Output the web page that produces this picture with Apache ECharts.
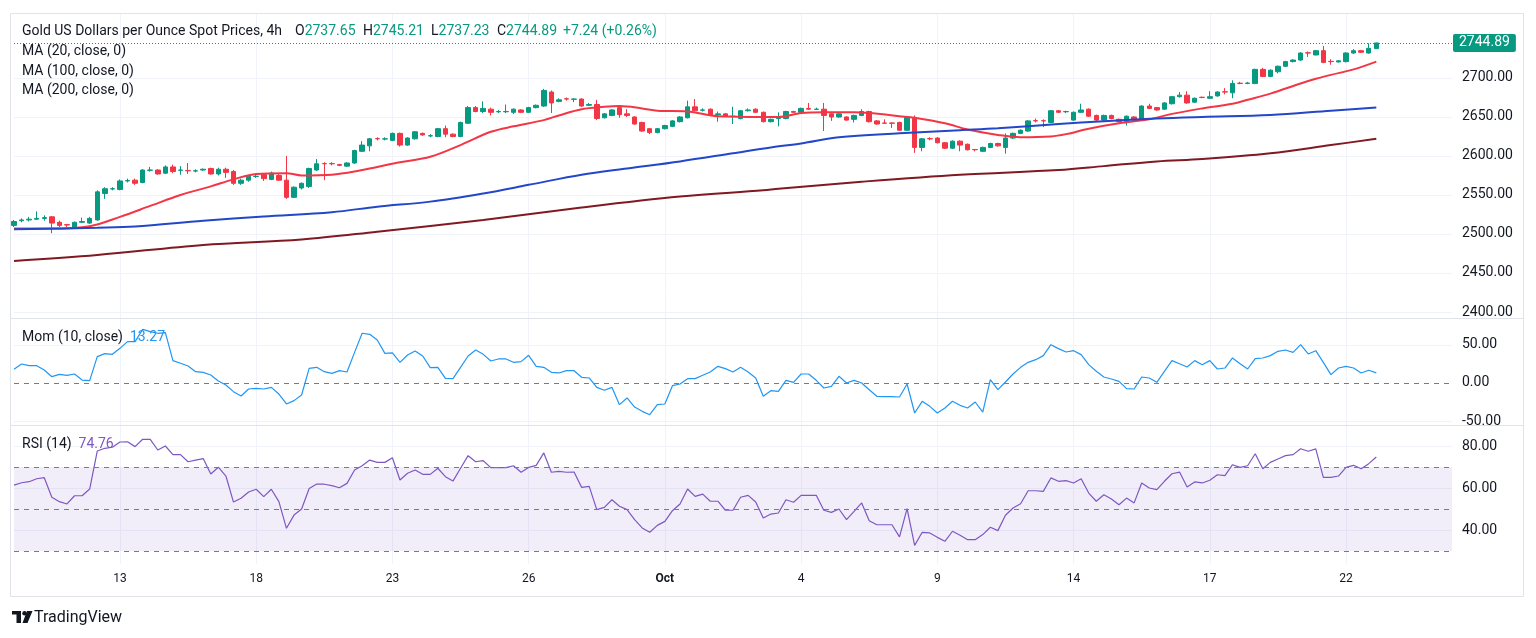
<!DOCTYPE html>
<html><head><meta charset="utf-8">
<script src="https://cdn.jsdelivr.net/npm/echarts@6/dist/echarts.min.js"></script>
<style>html,body{margin:0;padding:0;background:#fff}#c{width:1536px;height:638px}</style>
</head><body><div id="c"></div>
<script>
// ---- time axis ----
const tradingDays = ['2024-09-10','2024-09-11','2024-09-12','2024-09-13','2024-09-16','2024-09-17','2024-09-18','2024-09-19','2024-09-20','2024-09-23','2024-09-24','2024-09-25','2024-09-26','2024-09-27','2024-09-30','2024-10-01','2024-10-02','2024-10-03','2024-10-04','2024-10-07','2024-10-08','2024-10-09','2024-10-10','2024-10-11','2024-10-14','2024-10-15','2024-10-16','2024-10-17','2024-10-18','2024-10-21','2024-10-22','2024-10-23','2024-10-24'];
const barHours = ['00:00','04:00','08:00','12:00','16:00','20:00'];
const firstBarSlot = 4;      // series starts at 2024-09-10 16:00
const totalSlots = 191;      // bars + empty space on the right
const tickDates = ['2024-09-13','2024-09-18','2024-09-23','2024-09-26','2024-10-01','2024-10-04','2024-10-09','2024-10-14','2024-10-17','2024-10-22'];
const tickLabels = ['13','18','23','26','Oct','4','9','14','17','22'];

// ---- header values ----
const headerTitle = 'Gold US Dollars per Ounce Spot Prices, 4h';
const headerOHLC = [['O', '2737.65'], ['H', '2745.21'], ['L', '2737.23'], ['C', '2744.89']];
const headerChange = '+7.24 (+0.26%)';
const maLabels = ['MA (20, close, 0)', 'MA (100, close, 0)', 'MA (200, close, 0)'];

// ---- price (4h candles) ----
const opens = [2511,2517,2518,2519,2520,2522,2515,2512,2509,2515,
2514,2518,2552,2557.8,2557,2568,2569,2566,2581.7,2582,
2578,2586,2581.7,2581.5,2580.7,2582,2584,2577,2583,2580,
2565,2569,2573.7,2576,2570,2575,2569,2547,2559,2561,
2582,2590.3,2590.3,2589,2587,2591,2606,2613,2622.3,2621.7,
2620,2629,2614,2622,2629,2625.7,2625,2635,2628,2625,
2642,2662,2657,2660,2656.7,2656.7,2656,2659,2656,2662,
2664,2682,2670,2673.3,2672.7,2673,2665,2666,2649,2652,
2662,2654,2650,2643,2635,2630,2635,2638,2644,2649,
2663,2658.7,2660,2653,2654,2650.7,2648,2658,2660,2656,
2644,2648,2648,2657,2656,2661,2659.7,2660,2654,2650,
2650,2647,2652,2657,2645,2642.3,2642.3,2643,2633,2648,
2611,2622.3,2623,2617,2610,2619,2615,2608.3,2606,2611,
2616,2611,2623,2629,2632,2645.3,2645.3,2643,2658,2656.7,
2646,2656,2660,2652,2646,2652,2647,2643,2650,2647,
2664,2662,2660,2667,2676,2678,2669,2675.3,2674,2677,
2682.3,2681,2693.3,2693,2693,2711,2702,2708,2715,2721,
2723,2732.3,2729.5,2735,2721.3,2720.5,2721,2732,2735,2732,
2737.65];
const closes = [2516,2518,2519,2520,2521,2514,2511,2511.5,2515,2516,
2520,2554,2558,2558,2568,2568.5,2565,2582,2582,2577,
2586,2580,2582,2581,2581,2583,2577,2583,2579,2565,
2569,2574,2574,2571,2578,2569,2547,2560,2565,2584,
2590,2590,2590,2588,2591,2607,2614,2622,2622,2622,
2629,2614,2623,2631,2627,2626,2635,2628,2625,2643,
2662,2657,2661,2656,2657,2657,2660,2656,2662,2665,
2684,2668,2672,2673,2673,2664,2666,2648,2654,2659,
2653,2652,2641,2632,2630,2635,2639,2645,2650,2663,
2658,2659,2653,2654,2651,2651,2658,2659,2656,2644,
2647,2649,2657,2656,2661,2660,2660,2652,2650,2654,
2646,2652,2657,2644,2641,2642,2642,2633,2650,2611,
2622,2622,2617,2610,2619,2614,2608,2608,2611,2616,
2613,2623,2629,2633,2645,2645,2645,2658,2656,2657,
2656,2659,2651,2646,2652,2648,2644,2651,2646,2664,
2661,2659,2668,2676,2678,2668,2674,2675,2676,2682,
2682,2693,2693,2693.5,2711,2702,2710,2715,2721,2723,
2732,2732,2735,2720,2721,2722,2732,2735,2733,2738,
2744.89];
const lows = [2509,2515,2516,2518,2517,2501,2509,2509,2508,2514,
2513,2517,2545,2556,2556,2566,2563,2565,2580,2576,
2577,2578,2576,2577,2579,2581,2576,2575,2572,2563,
2563,2567,2572,2568,2569,2568,2545,2546,2557,2559,
2581,2569,2588,2587,2586,2590,2605,2606,2620,2620,
2619,2612,2613,2621,2626,2624,2624,2624,2624,2624,
2641,2656,2655,2652,2655,2655,2654,2655,2655,2661,
2663,2655,2669,2671,2669,2663,2664,2646,2648,2651,
2649,2650,2640,2631,2628,2629,2634,2637,2643,2648,
2657,2657,2652,2644,2650,2641,2647,2657,2655,2643,
2643,2638,2647,2655,2655,2659,2659,2632,2645,2649,
2645,2643,2651,2643,2640,2641,2636,2632,2632,2604,
2606,2620,2616,2609,2609,2606,2607,2606,2605,2610,
2612,2603,2622,2628,2631,2643,2637,2642,2655,2655,
2645,2655,2650,2645,2645,2647,2643,2639,2645,2646,
2660,2658,2659,2666,2675,2667,2668,2674,2673,2676,
2679,2674,2692,2692,2692,2701,2701,2706,2714,2720,
2722,2727,2729,2719,2717,2720,2720,2731,2732,2731,
2737.23];
const highs = [2518,2520,2522,2529,2524,2523,2517,2513,2516,2521,
2522,2556,2560,2560,2570,2571,2571,2583,2586,2583,
2588,2589,2587,2591,2583,2584,2585,2585,2585,2582,
2571,2575,2576,2577,2580,2577,2600,2561,2566,2585,
2596,2592,2592,2590,2592,2608,2619,2623,2624,2624,
2630,2630,2624,2632,2630,2628,2636,2639,2629,2644,
2664,2664,2670,2662,2659,2666,2661,2660,2663,2666,
2686,2684,2674,2675,2674,2674,2668,2672,2655,2660,
2663,2660,2651,2644,2636,2636,2640,2646,2651,2671,
2673,2661,2661,2657,2655,2663,2659,2661,2661,2657,
2648,2656,2658,2658,2662,2668,2662,2668,2655,2655,
2651,2653,2660,2658,2646,2647,2643,2644,2651,2652,
2623,2624,2624,2618,2620,2620,2616,2609,2612,2617,
2617,2629,2630,2634,2646,2648,2647,2659,2659,2658,
2657,2667,2661,2653,2653,2653,2648,2652,2651,2665,
2667,2663,2669,2677,2682,2683,2675,2676,2683,2683,
2687,2697,2695,2695,2712,2713,2711,2716,2722,2724,
2733,2734,2736,2741,2724,2723,2733,2737,2736,2744.5,
2745.21];

// ---- moving averages: [bar index, value] ----
const ma20Points = [[0,2507],[5,2507],[10,2510],[14,2522],[18,2536],[22,2550],[26,2561],[29,2570],[32,2577],[36,2578],[38,2575],[42,2576],[45,2580],[48,2586],[51,2592],[55,2599],[59,2614],[63,2631],[66,2638],[70,2646],[72,2652],[75,2660],[78,2663],[80,2664],[83,2661],[85,2658],[89,2657],[93,2651],[99,2650],[101,2650],[104,2655],[107,2656],[111,2656],[113,2655],[117,2651],[119,2649],[123,2642],[126,2634],[130,2627],[133,2624],[137,2625],[139,2628],[142,2635],[146,2642],[150,2647],[153,2654],[157,2661],[161,2667],[163,2672],[166,2680],[170,2693],[172,2699],[174,2704],[177,2711],[180,2721]];
const ma100Points = [[0,2506],[11,2508],[16,2509.5],[25,2517],[33,2522.5],[42,2528],[48,2535],[55,2541.5],[62,2552],[68,2563],[75,2576],[81,2584],[88,2593],[95,2603.5],[100,2611],[104,2616],[109,2624],[117,2629],[125,2633],[130,2635.5],[138,2641],[144,2644.5],[151,2648],[157,2650],[166,2652.5],[174,2658],[180,2662]];
const ma200Points = [[0,2465.4],[11,2473],[25,2486],[38,2493],[48,2503],[62,2518],[75,2534],[88,2548],[99,2556],[101,2558],[112,2567],[125,2576],[138,2582],[144,2587],[151,2593],[157,2596],[166,2603.5],[174,2614],[180,2622]];

// ---- Momentum (10) ----
const momValues = [18.0,25.0,22.8,22.8,17.1,8.3,11.4,10.1,11.8,3.9,
3.1,34.7,38.6,37.7,45.6,54.4,54.4,70.6,67.6,65.4,
66.2,29.4,25.9,22.4,14.9,14.0,10.5,2.6,-2.6,-11.4,
-17.1,-7.9,-7.0,-7.9,-5.7,-14.5,-27.6,-23.2,-15.8,19.3,
20.6,14.9,12.7,16.2,14.5,40.3,65.4,64.0,56.6,39.0,
39.5,27.2,36.8,42.1,35.5,20.2,20.6,6.1,5.7,20.6,
35.5,43.4,37.7,28.9,31.6,31.6,27.2,28.1,36.4,21.9,
20.6,14.0,13.2,16.2,16.2,7.5,6.6,-5.7,-9.6,-5.7,
-28.5,-19.7,-31.6,-37.3,-41.7,-28.5,-27.6,-3.5,-1.3,5.7,
5.7,10.1,14.5,21.9,18.9,14.5,20.6,14.5,6.6,-17.5,
-10.1,-11.0,3.5,0.9,11.8,11.8,3.5,-6.6,-4.4,8.8,
0,3.5,0,-8.8,-17.5,-17.9,-17.9,-18.4,-1.3,-39.5,
-24.1,-30.7,-39.5,-32.9,-24.1,-29.4,-32.9,-25.0,-38.2,4.4,
-8.8,1.3,11.8,20.6,27.2,30.7,36.0,50.4,45.2,40.8,
42.5,37.3,24.1,15.4,7.9,5.3,2.2,-7.5,-7.9,7.9,
6.6,0.9,15.4,29.4,25.4,21.1,29.4,24.1,29.4,18.4,
19.7,32.9,25.4,18.4,32.0,32.9,36.0,41.7,43.4,40.3,
50.4,38.2,42.5,27.2,11.0,19.7,21.9,19.7,13.2,16.7,
13.27];

// ---- RSI (14) ----
const rsiValues = [61.4,62.5,63.0,64.4,64.9,55.6,53.5,52.4,56.3,56.3,
59.5,77.6,78.9,79.4,81.9,82.0,79.7,83.2,83.2,78.1,
80.0,75.9,75.9,72.5,73.3,74.0,66.7,69.9,65.7,53.3,
55.1,58.1,59.4,55.9,59.4,53.5,40.8,47.1,50.0,59.8,
61.9,61.8,61.1,60.1,62.2,68.6,70.6,73.3,72.2,72.2,
74.4,63.8,67.0,68.6,66.5,66.5,69.4,65.4,63.3,69.4,
75.4,72.5,73.0,69.7,69.7,69.7,70.6,67.5,69.8,70.8,
76.7,67.5,67.9,67.5,67.6,60.3,60.8,49.7,50.8,54.4,
51.3,49.7,44.9,41.0,38.9,42.2,44.1,49.2,52.4,59.5,
56.0,57.1,53.7,53.7,49.4,49.4,55.6,56.5,53.3,45.7,
47.6,48.1,54.4,53.2,56.5,56.5,56.5,49.4,48.4,50.0,
44.9,48.9,52.9,44.4,42.5,42.5,42.5,36.7,50.2,32.7,
38.9,38.6,36.5,34.6,39.4,37.5,35.4,35.4,37.8,41.3,
39.7,47.0,50.5,52.5,58.7,58.7,58.4,64.8,63.2,63.5,
62.4,64.4,57.6,53.7,56.8,54.8,52.0,55.2,52.9,62.4,
60.0,59.2,63.2,66.8,67.6,60.5,62.9,62.4,63.7,66.3,
65.9,71.1,69.8,70.6,76.3,69.2,72.2,73.8,75.4,75.9,
78.7,77.5,78.6,65.1,65.1,65.7,69.8,70.8,69.2,71.6,
74.76];

// ---- build tables ----
const allSlots = [];
tradingDays.forEach(d => barHours.forEach(h => allSlots.push(d + ' ' + h)));
const categories = allSlots.slice(firstBarSlot, firstBarSlot + totalSlots);
const tickSet = new Set(tickDates.map(d => d + ' 00:00'));
const candleData = opens.map((o, i) => [o, closes[i], lows[i], highs[i]]);
const lastClose = closes[closes.length - 1];
const lastMom = momValues[momValues.length - 1];
const lastRsi = rsiValues[rsiValues.length - 1];

const FONT = 'Roboto';
const TXT = '#131722';
const GRID = '#f0f3fa';
const UP = '#089981', DOWN = '#f23645';
const NONE = 'rgba(0,0,0,0)';
const G = { left: 14, right: 84 };

function hiddenX(gi) {
  return { type: 'category', gridIndex: gi, data: categories, boundaryGap: false, show: false };
}
const isTick = (idx, val) => tickSet.has(val);
function txt(x, y, text, rich) {
  return { type: 'text', z: 60, silent: true, x: x, y: y,
    style: { text: text, rich: rich, fill: TXT, fontSize: 14, fontFamily: FONT, align: 'left', verticalAlign: 'middle' } };
}
const richBase = { t: { fill: TXT, fontSize: 14, fontFamily: FONT }, g: { fill: UP, fontSize: 14, fontFamily: FONT },
  b: { fill: '#2196f3', fontSize: 14, fontFamily: FONT }, p: { fill: '#7e57c2', fontSize: 14, fontFamily: FONT } };
const ohlcX = [295, 363, 431, 497];

const chart = echarts.init(document.getElementById('c'), null, { renderer: 'canvas' });
chart.setOption({
  animation: false,
  backgroundColor: '#ffffff',
  textStyle: { fontFamily: FONT },
  grid: [
    { left: G.left, right: G.right, top: 13, height: 299 },
    { left: G.left, right: G.right, top: 318, height: 103 },
    { left: G.left, right: G.right, top: 425, height: 126 },
    { left: G.left, right: G.right, top: 13, height: 551 }
  ],
  xAxis: [
    hiddenX(0), hiddenX(1), hiddenX(2),
    {
      type: 'category', gridIndex: 3, data: categories, boundaryGap: false,
      axisLine: { show: false }, axisTick: { show: false },
      axisLabel: {
        interval: isTick, margin: 9, color: TXT, fontSize: 12, fontFamily: FONT,
        formatter: (v) => { const lab = tickLabels[tickDates.indexOf(v.slice(0, 10))]; return lab === 'Oct' ? '{b|Oct}' : lab; },
        rich: { b: { fontWeight: 'bold', color: TXT, fontSize: 12, fontFamily: FONT } }
      },
      splitLine: { show: true, interval: isTick, lineStyle: { color: GRID, width: 1 } }
    }
  ],
  yAxis: [
    {
      type: 'value', gridIndex: 0, position: 'right', min: 2400, max: 2783.3, interval: 50,
      axisLine: { show: false }, axisTick: { show: false },
      axisLabel: { color: TXT, fontSize: 14, margin: 10, fontFamily: FONT, showMaxLabel: false,
        formatter: v => (v > 2720 ? '' : v.toFixed(2)) },
      splitLine: { lineStyle: { color: [GRID, GRID, GRID, GRID, GRID, GRID, GRID, NONE, NONE] } }
    },
    {
      type: 'value', gridIndex: 1, position: 'right', min: -50, max: 85.5, interval: 50,
      axisLine: { show: false }, axisTick: { show: false },
      axisLabel: { color: TXT, fontSize: 14, margin: 10, fontFamily: FONT, showMaxLabel: false, formatter: v => v.toFixed(2) },
      splitLine: { lineStyle: { color: [GRID, NONE, GRID, NONE] } }
    },
    {
      type: 'value', gridIndex: 2, position: 'right', min: 30, max: 90, interval: 10,
      axisLine: { show: false }, axisTick: { show: false },
      axisLabel: { color: TXT, fontSize: 14, margin: 10, fontFamily: FONT, formatter: v => (v === 40 || v === 60 || v === 80) ? v.toFixed(2) : '' },
      splitLine: { lineStyle: { color: [NONE, GRID, NONE, GRID, NONE, GRID, NONE] } }
    },
    { type: 'value', gridIndex: 3, show: false, min: 0, max: 1 }
  ],
  series: [
    {
      name: 'Gold', type: 'candlestick', xAxisIndex: 0, yAxisIndex: 0, data: candleData,
      barWidth: 5, clip: false,
      itemStyle: { color: UP, color0: DOWN, borderColor: UP, borderColor0: DOWN, borderWidth: 1 },
      markLine: {
        silent: true, symbol: ['none', 'none'], animation: false,
        data: [{ yAxis: lastClose }],
        lineStyle: { color: UP, type: [1, 2], width: 1 },
        label: { show: true, position: 'end', distance: 1, formatter: lastClose.toFixed(2),
          backgroundColor: UP, color: '#fff', fontSize: 14, fontFamily: FONT, lineHeight: 14, padding: [2, 6, 2, 6], borderRadius: 2 }
      }
    },
    { name: 'MA20', type: 'line', xAxisIndex: 0, yAxisIndex: 0, data: ma20Points, smooth: 0.35, showSymbol: false, lineStyle: { color: '#f23645', width: 2 } },
    { name: 'MA100', type: 'line', xAxisIndex: 0, yAxisIndex: 0, data: ma100Points, smooth: 0.35, showSymbol: false, lineStyle: { color: '#2446c8', width: 2 } },
    { name: 'MA200', type: 'line', xAxisIndex: 0, yAxisIndex: 0, data: ma200Points, smooth: 0.35, showSymbol: false, lineStyle: { color: '#801922', width: 2 } },
    {
      name: 'Mom', type: 'line', xAxisIndex: 1, yAxisIndex: 1, data: momValues, showSymbol: false,
      lineStyle: { color: '#2196f3', width: 1.2 },
      markLine: {
        silent: true, symbol: ['none', 'none'], animation: false,
        data: [
          { yAxis: 0, lineStyle: { color: '#787b86', type: [5, 5], width: 1 }, label: { show: false } },
          { yAxis: lastMom, lineStyle: { opacity: 0 },
            label: { show: true, position: 'end', distance: 1, formatter: lastMom.toFixed(2), backgroundColor: '#2196f3', color: '#fff', fontSize: 14, fontFamily: FONT, lineHeight: 14, padding: [3, 7, 2, 7], borderRadius: 2 } }
        ]
      }
    },
    {
      name: 'RSI', type: 'line', xAxisIndex: 2, yAxisIndex: 2, data: rsiValues, showSymbol: false,
      lineStyle: { color: '#7e57c2', width: 1.2 },
      markArea: { silent: true, itemStyle: { color: 'rgba(126,87,194,0.1)' }, data: [[{ yAxis: 30 }, { yAxis: 70 }]] },
      markLine: {
        silent: true, symbol: ['none', 'none'], animation: false,
        data: [
          { yAxis: 70, lineStyle: { color: '#787b86', type: [5, 5], width: 1 }, label: { show: false } },
          { yAxis: 50, lineStyle: { color: '#787b86', type: [5, 5], width: 1 }, label: { show: false } },
          { yAxis: 30, lineStyle: { color: '#787b86', type: [5, 5], width: 1 }, label: { show: false } },
          { yAxis: lastRsi, lineStyle: { opacity: 0 },
            label: { show: true, position: 'end', distance: 1, formatter: lastRsi.toFixed(2), backgroundColor: '#7e57c2', color: '#fff', fontSize: 14, fontFamily: FONT, lineHeight: 14, padding: [3, 7, 2, 7], borderRadius: 2 } }
        ]
      }
    }
  ],
  graphic: [
    { type: 'rect', z: 50, silent: true, shape: { x: 10.5, y: 13.5, width: 1513, height: 583 }, style: { fill: 'none', stroke: '#e0e3eb', lineWidth: 1 } },
    { type: 'line', z: 50, silent: true, shape: { x1: 10, y1: 318.5, x2: 1523, y2: 318.5 }, style: { stroke: '#e0e3eb', lineWidth: 1 } },
    { type: 'line', z: 50, silent: true, shape: { x1: 10, y1: 425.5, x2: 1523, y2: 425.5 }, style: { stroke: '#e0e3eb', lineWidth: 1 } },
    txt(22, 31, headerTitle),
    ...headerOHLC.map((p, k) => txt(ohlcX[k], 31, '{t|' + p[0] + '}{g|' + p[1] + '}', richBase)),
    txt(563, 31, '{g|' + headerChange + '}', richBase),
    txt(22, 51, maLabels[0]),
    txt(22, 71, maLabels[1]),
    txt(22, 90.5, maLabels[2]),
    txt(22, 337.5, '{t|Mom (10, close)}  {b|' + lastMom.toFixed(2) + '}', richBase),
    txt(22, 444.5, '{t|RSI (14)}  {p|' + lastRsi.toFixed(2) + '}', richBase),
    { type: 'group', z: 60, silent: true, x: 12, y: 611, children: [
        { type: 'rect', shape: { x: 0, y: 0, width: 9, height: 3.5 }, style: { fill: TXT } },
        { type: 'rect', shape: { x: 4.5, y: 0, width: 4.5, height: 12 }, style: { fill: TXT } },
        { type: 'circle', shape: { cx: 12.5, cy: 2.2, r: 2.2 }, style: { fill: TXT } },
        { type: 'polygon', shape: { points: [[15, 0], [20.5, 0], [15.5, 12], [10.5, 12]] }, style: { fill: TXT } }
      ] },
    { type: 'text', z: 60, silent: true, x: 34, y: 617.5, style: { text: 'TradingView', fill: TXT, fontSize: 16, fontFamily: FONT, align: 'left', verticalAlign: 'middle' } }
  ]
});
</script>
</body></html>
